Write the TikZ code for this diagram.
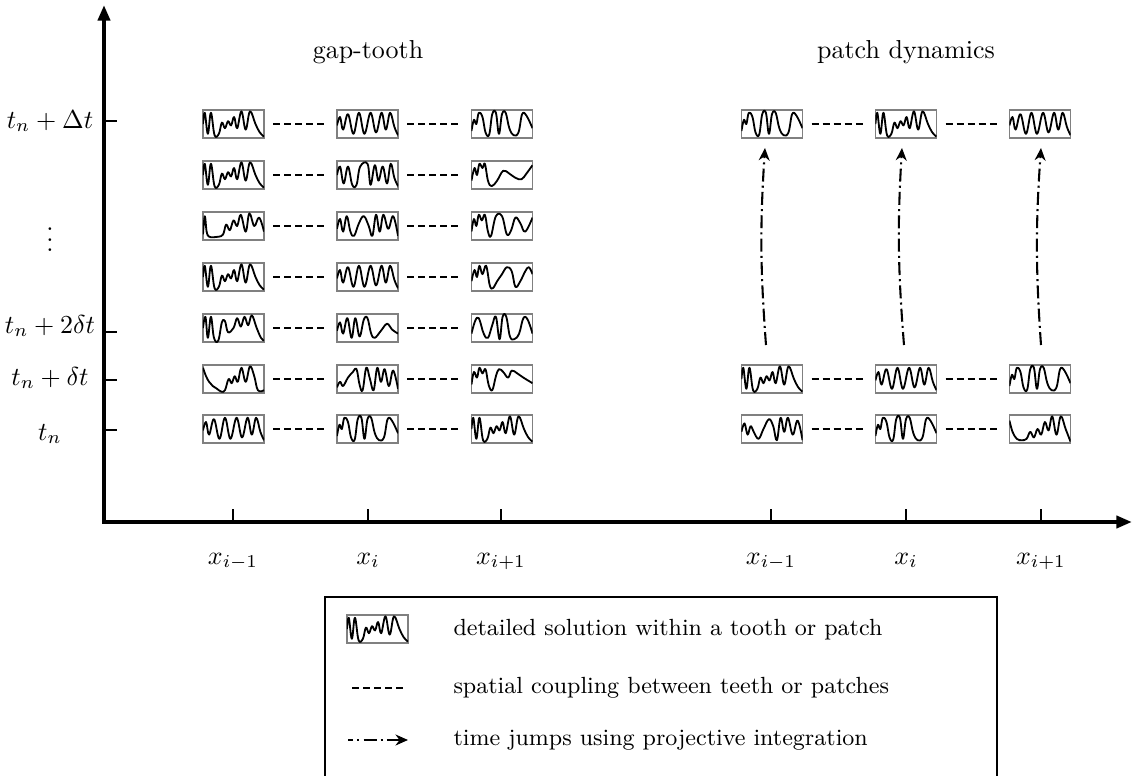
\documentclass[tikz,border=0pt]{standalone}
\usetikzlibrary{arrows.meta}
\newcommand\tooth[4]{%
  \node[toothbox] (#1) at (#2,#3) {};
  \begin{scope}[shift={(#1.south west)}, x=23.5pt, y=10.8pt]
    \clip (0,0) rectangle (1,1);
    #4
  \end{scope}}
\tikzset{wvplot/.style={smooth, tension=0.65}}
\newcommand\wvA{\draw[wave] plot[wvplot] coordinates {(0,0.5) (0.03,0.9) (0.08,0.15) (0.13,0.9) (0.19,0.1) (0.26,0.15) (0.31,0.55) (0.36,0.35) (0.41,0.6) (0.46,0.45) (0.51,0.75) (0.56,0.35) (0.63,0.95) (0.7,0.3) (0.77,0.95) (0.86,0.5) (0.93,0.2) (1,0.05)};}
\newcommand\wvB{\draw[wave] plot[wvplot] coordinates {(0,0.45) (0.05,0.75) (0.1,0.3) (0.18,0.85) (0.27,0.15) (0.36,0.9) (0.45,0.15) (0.55,0.9) (0.64,0.2) (0.73,0.9) (0.8,0.3) (0.87,0.9) (0.94,0.4) (1,0.1)};}
\newcommand\wvC{\draw[wave] plot[wvplot] coordinates {(0,0.25) (0.04,0.65) (0.08,0.5) (0.12,0.9) (0.18,0.75) (0.23,0.2) (0.29,0.12) (0.34,0.85) (0.4,0.9) (0.45,0.15) (0.5,0.85) (0.56,0.9) (0.62,0.35) (0.69,0.1) (0.77,0.2) (0.83,0.85) (0.9,0.8) (1,0.35)};}
\newcommand\wvD{\draw[wave] plot[wvplot] coordinates {(0,0.5) (0.05,0.8) (0.11,0.2) (0.18,0.8) (0.25,0.15) (0.32,0.15) (0.38,0.8) (0.5,0.9) (0.55,0.15) (0.62,0.85) (0.68,0.3) (0.75,0.8) (0.82,0.2) (0.88,0.9) (0.94,0.4) (1,0.1)};}
\newcommand\wvE{\draw[wave] plot[wvplot] coordinates {(0,0.3) (0.05,0.75) (0.09,0.5) (0.13,0.9) (0.18,0.75) (0.22,0.9) (0.27,0.3) (0.33,0.1) (0.42,0.3) (0.52,0.65) (0.62,0.55) (0.72,0.4) (0.82,0.35) (0.9,0.55) (1,0.85)};}
\newcommand\wvF{\draw[wave] plot[wvplot] coordinates {(0,0.2) (0.03,0.85) (0.06,0.3) (0.1,0.12) (0.18,0.1) (0.26,0.12) (0.33,0.2) (0.38,0.55) (0.44,0.35) (0.5,0.7) (0.56,0.5) (0.62,0.9) (0.7,0.3) (0.76,0.95) (0.84,0.5) (0.92,0.8) (1,0.3)};}
\newcommand\wvG{\draw[wave] plot[wvplot] coordinates {(0,0.4) (0.05,0.75) (0.1,0.3) (0.16,0.85) (0.22,0.3) (0.28,0.15) (0.36,0.6) (0.44,0.85) (0.52,0.5) (0.58,0.15) (0.64,0.9) (0.7,0.3) (0.76,0.9) (0.84,0.4) (0.92,0.85) (1,0.15)};}
\newcommand\wvH{\draw[wave] plot[wvplot] coordinates {(0,0.3) (0.04,0.75) (0.08,0.5) (0.12,0.9) (0.17,0.7) (0.22,0.9) (0.27,0.3) (0.32,0.15) (0.4,0.85) (0.5,0.85) (0.58,0.2) (0.65,0.35) (0.72,0.8) (0.8,0.6) (0.88,0.3) (1,0.8)};}
\newcommand\wvI{\draw[wave] plot[wvplot] coordinates {(0,0.35) (0.05,0.75) (0.09,0.5) (0.13,0.9) (0.18,0.6) (0.24,0.9) (0.3,0.2) (0.35,0.1) (0.42,0.35) (0.5,0.6) (0.58,0.85) (0.66,0.7) (0.72,0.15) (0.8,0.35) (0.88,0.7) (0.94,0.85) (1,0.6)};}
\newcommand\wvJ{\draw[wave] plot[wvplot] coordinates {(0,0.5) (0.04,0.9) (0.08,0.15) (0.13,0.9) (0.18,0.15) (0.25,0.05) (0.31,0.7) (0.36,0.75) (0.41,0.35) (0.5,0.5) (0.56,0.85) (0.62,0.55) (0.68,0.9) (0.74,0.6) (0.8,0.95) (0.88,0.5) (0.95,0.15) (1,0.05)};}
\newcommand\wvK{\draw[wave] plot[wvplot] coordinates {(0,0.4) (0.05,0.7) (0.1,0.3) (0.17,0.85) (0.24,0.15) (0.3,0.85) (0.37,0.2) (0.44,0.8) (0.5,0.85) (0.56,0.3) (0.62,0.15) (0.72,0.4) (0.82,0.65) (0.9,0.45) (1,0.3)};}
\newcommand\wvL{\draw[wave] plot[wvplot] coordinates {(0,0.3) (0.06,0.75) (0.12,0.85) (0.2,0.3) (0.27,0.15) (0.34,0.6) (0.4,0.9) (0.46,0.1) (0.51,0.9) (0.57,0.9) (0.63,0.2) (0.7,0.1) (0.78,0.3) (0.85,0.85) (0.92,0.8) (1,0.3)};}
\newcommand\wvM{\draw[wave] plot[wvplot] coordinates {(0,0.9) (0.05,0.6) (0.1,0.4) (0.16,0.25) (0.23,0.15) (0.3,0.05) (0.36,0.1) (0.42,0.5) (0.47,0.35) (0.52,0.6) (0.57,0.4) (0.63,0.9) (0.7,0.4) (0.77,0.95) (0.84,0.6) (0.9,0.1) (1,0.1)};}
\newcommand\wvN{\draw[wave] plot[wvplot] coordinates {(0,0.2) (0.05,0.4) (0.1,0.25) (0.18,0.55) (0.26,0.75) (0.32,0.85) (0.37,0.3) (0.42,0.1) (0.48,0.9) (0.54,0.5) (0.6,0.1) (0.66,0.9) (0.72,0.4) (0.78,0.85) (0.85,0.25) (0.92,0.8) (1,0.15)};}
\newcommand\wvO{\draw[wave] plot[wvplot] coordinates {(0,0.3) (0.04,0.75) (0.09,0.55) (0.13,0.9) (0.18,0.7) (0.23,0.85) (0.28,0.3) (0.34,0.1) (0.4,0.6) (0.45,0.85) (0.52,0.75) (0.6,0.55) (0.66,0.8) (0.75,0.7) (0.85,0.55) (1,0.35)};}
\newcommand\wvP{\draw[wave] plot[wvplot] coordinates {(0,0.4) (0.05,0.7) (0.1,0.3) (0.15,0.6) (0.2,0.4) (0.28,0.15) (0.36,0.5) (0.45,0.85) (0.52,0.6) (0.58,0.1) (0.64,0.9) (0.7,0.4) (0.76,0.9) (0.84,0.3) (0.92,0.8) (1,0.1)};}
\newcommand\wvQ{\draw[wave] plot[wvplot] coordinates {(0,0.8) (0.05,0.4) (0.12,0.15) (0.2,0.1) (0.28,0.15) (0.34,0.4) (0.4,0.2) (0.46,0.5) (0.52,0.3) (0.58,0.75) (0.64,0.45) (0.7,0.95) (0.77,0.3) (0.84,0.95) (0.92,0.5) (1,0.05)};}
\begin{document}
\begin{tikzpicture}[x=0.385pt, y=-0.385pt,
  axis/.style={line width=1.5pt, line join=miter},
  tickmark/.style={line width=1.1pt},
  toothbox/.style={draw=black!50, line width=0.6pt, minimum width=23.5pt, minimum height=10.8pt, inner sep=0pt, outer sep=0pt},
  wave/.style={line width=0.7pt, line join=round},
  coupling/.style={line width=0.8pt, dash pattern=on 2.7pt off 1.55pt, shorten <=3.5pt, shorten >=4.6pt},
  jump/.style={line width=0.8pt, dash pattern=on 5pt off 1.6pt on 0.8pt off 1.6pt, -{Stealth[length=4.8pt,width=4.2pt]}},
  lbl/.style={inner sep=0pt},
  legtext/.style={inner sep=0pt, anchor=west, font=\small},
]
\useasboundingbox (0,0) rectangle (1132,776);
% axes
\coordinate (O) at (104,522);
\coordinate (ytop) at (104,5);
\coordinate (xend) at (1132,522);
\draw[axis, {Triangle[length=6pt,width=4.6pt]}-{Triangle[length=6pt,width=4.6pt]}] (ytop) -- (O) -- (xend);
% y ticks
\foreach \yy in {121,332,380,430} \draw[tickmark] (104,\yy) -- (117,\yy);
% x ticks
\foreach \xx in {233,368,501,771,906,1041} \draw[tickmark] (\xx,522) -- (\xx,509);
% y labels
\node[lbl, anchor=base] (lDt) at (50,128) {$t_n+\Delta t$};
\node[lbl] (ldots) at (50,232) {$\vdots$};
\node[lbl, anchor=base] (l2dt) at (50,333) {$t_n+2\delta t$};
\node[lbl, anchor=base] (ldt) at (50,385) {$t_n+\delta t$};
\node[lbl, anchor=base] (ltn) at (50,440) {$t_n$};
% x labels
\node[lbl, anchor=base] (gxa) at (233,564) {$x_{i-1}$};
\node[lbl, anchor=base] (gxb) at (368,564) {$x_{i}$};
\node[lbl, anchor=base] (gxc) at (501,564) {$x_{i+1}$};
\node[lbl, anchor=base] (pxa) at (771,564) {$x_{i-1}$};
\node[lbl, anchor=base] (pxb) at (906,564) {$x_{i}$};
\node[lbl, anchor=base] (pxc) at (1041,564) {$x_{i+1}$};
% titles
\node (tgap) at (368,52) {gap-tooth};
\node (tpatch) at (906,52) {patch dynamics};
% gap-tooth teeth
\tooth{g1a}{233.5}{124}{\wvA} \tooth{g1b}{367.5}{124}{\wvB} \tooth{g1c}{502}{124}{\wvC}
\tooth{g2a}{233.5}{175}{\wvA}   \tooth{g2b}{367.5}{175}{\wvD}   \tooth{g2c}{502}{175}{\wvE}
\tooth{g3a}{233.5}{226}{\wvF}   \tooth{g3b}{367.5}{226}{\wvG}   \tooth{g3c}{502}{226}{\wvH}
\tooth{g4a}{233.5}{277}{\wvA}   \tooth{g4b}{367.5}{277}{\wvB}   \tooth{g4c}{502}{277}{\wvI}
\tooth{g5a}{233.5}{328}{\wvJ} \tooth{g5b}{367.5}{328}{\wvK} \tooth{g5c}{502}{328}{\wvL}
\tooth{g6a}{233.5}{379}{\wvM}   \tooth{g6b}{367.5}{379}{\wvN}   \tooth{g6c}{502}{379}{\wvO}
\tooth{g7a}{233.5}{429}{\wvB}   \tooth{g7b}{367.5}{429}{\wvC}   \tooth{g7c}{502}{429}{\wvA}
\foreach \r in {1,...,7} {
  \draw[coupling] (g\r a) -- (g\r b);
  \draw[coupling] (g\r b) -- (g\r c);
}
% patch dynamics
\tooth{p1a}{772}{124}{\wvC} \tooth{p1b}{906}{124}{\wvA} \tooth{p1c}{1040}{124}{\wvB}
\tooth{p2a}{772}{379}{\wvA}   \tooth{p2b}{906}{379}{\wvB}   \tooth{p2c}{1040}{379}{\wvC}
\tooth{p3a}{772}{429}{\wvP}   \tooth{p3b}{906}{429}{\wvC}   \tooth{p3c}{1040}{429}{\wvQ}
\foreach \r in {1,2,3} {
  \draw[coupling] (p\r a) -- (p\r b);
  \draw[coupling] (p\r b) -- (p\r c);
}
\coordinate (ja0) at (766,345); \coordinate (ja1) at (765,148);
\coordinate (jb0) at (904,345); \coordinate (jb1) at (902,148);
\coordinate (jc0) at (1041,345); \coordinate (jc1) at (1041,148);
\draw[jump] (ja0) to[bend left=4] (ja1);
\draw[jump] (jb0) to[bend left=4] (jb1);
\draw[jump] (jc0) to[bend left=4] (jc1);
% legend
\draw[line width=1.1pt] (325,790) |- (997,597) -- (997,790);
\tooth{legt}{377.5}{629}{\wvA}
\coordinate (lc0) at (352,688); \coordinate (lc1) at (403,688);
\draw[line width=0.8pt, dash pattern=on 2.7pt off 1.55pt] (lc0) -- (lc1);
\coordinate (lj0) at (348,740); \coordinate (lj1) at (408,740);
\draw[jump, dash phase=3pt] (lj0) -- (lj1);
\node[legtext] (lt1) at (453,630) {detailed solution within a tooth or patch};
\node[legtext] (lt2) at (453,688) {spatial coupling between teeth or patches};
\node[legtext] (lt3) at (453,740) {time jumps using projective integration};
\end{tikzpicture}
\end{document}
